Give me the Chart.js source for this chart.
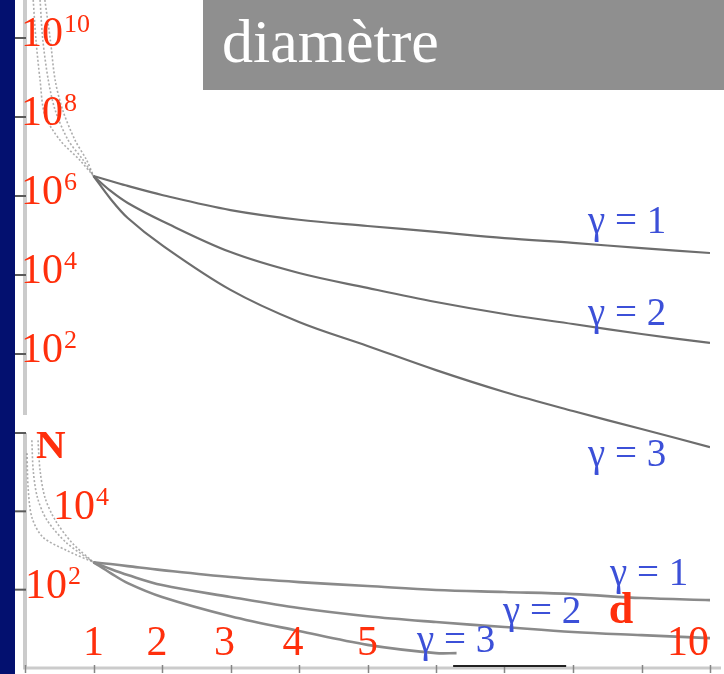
<!DOCTYPE html>
<html>
<head>
<meta charset="utf-8">
<title>diamètre</title>
<script src="https://cdn.jsdelivr.net/npm/chart.js@4.4.1/dist/chart.umd.min.js"></script>
<style>
  html, body { margin: 0; padding: 0; background: #fff; }
  #wrap { width: 724px; height: 674px; position: relative; overflow: hidden; }
  canvas { display: block; }
</style>
</head>
<body>
<div id="wrap"><canvas id="chart" width="724" height="674"></canvas></div>
<script>
// ---- data: number N of objects versus diameter d, for gamma = 1, 2, 3 ----
// upper panel (counts up to 10^10)
const dMain      = [1, 1.25, 1.5, 2, 3, 4, 5, 6, 7, 8, 9, 10];
const topGamma1  = [3.2e6, 2.4e6, 1.8e6, 1.06e6, 4.4e5, 2.5e5, 1.74e5, 1.23e5, 8.6e4, 6.5e4, 4.8e4, 3.6e4];
const topGamma2  = [3.2e6, 1.34e6, 6.65e5, 2.33e5, 3.8e4, 1.12e4, 4.7e3, 2.07e3, 1.03e3, 574, 321, 190];
const topGamma3  = [3.2e6, 8.4e5, 2.77e5, 5.7e4, 4.2e3, 646, 160, 39, 10.9, 3.6, 1.26, 0.44];
// dotted continuation below d = 1
const dTailTop1  = [0.12, 0.16, 0.22, 0.29, 0.51, 0.8, 1];
const dTailTop2  = [0.22, 0.26, 0.34, 0.44, 0.63, 0.85, 1];
const dTailTop3  = [0.29, 0.37, 0.44, 0.55, 0.73, 0.9, 1];
const tailTop1   = [9.2e10, 8.9e9, 8.6e8, 1.12e8, 2.6e7, 8.1e6, 3.2e6];
const tailTop2   = [9.2e10, 8.9e9, 8.6e8, 1.5e8, 2.6e7, 8.1e6, 3.2e6];
const tailTop3   = [9.2e10, 8.9e9, 8.6e8, 1.5e8, 2.6e7, 8.1e6, 3.2e6];

// lower panel (counts up to 10^4)
const botGamma1  = [500, 450, 400, 316, 210, 156, 124, 98, 87, 77, 61, 54];
const botGamma2  = [500, 336, 236, 131, 65, 34, 21, 14.9, 11.1, 8.3, 6.9, 5.8];
const dBotGamma3 = [1, 1.25, 1.5, 2, 3, 4, 5, 6, 6.3];
const botGamma3  = [500, 265, 147, 65, 21, 8.8, 3.9, 2.4, 2.4];
const dTailBot1  = [0.03, 0.045, 0.1, 0.26, 0.61, 1];
const dTailBot2  = [0.1, 0.12, 0.18, 0.32, 0.61, 1];
const dTailBot3  = [0.19, 0.22, 0.29, 0.44, 0.69, 1];
const tailBot1   = [3.05e5, 4.1e4, 7.1e3, 2.2e3, 1.0e3, 500];
const tailBot2   = [6.5e5, 1.1e5, 2.3e4, 6.0e3, 1.55e3, 500];
const tailBot3   = [6.5e5, 1.1e5, 2.3e4, 6.0e3, 1.55e3, 500];

// ---- tick labels ----
const topTickExps     = [10, 8, 6, 4, 2];   // powers of ten, upper panel
const bottomTickExps  = [4, 2];             // powers of ten, lower panel
const bottomTickMarks = [6, 4, 2];
const xTickValues     = [1, 2, 3, 4, 5, 10];
const gammaLabels     = ['γ = 1', 'γ = 2', 'γ = 3'];

// label nudges (pixels) relative to their tick
const xLabelShift = { 1: 0, 2: -5, 3: -6, 4: -6, 5: 0 };
const botLabelX   = { 4: 53, 2: 25 };

const SERIF = '"Liberation Serif", "Times New Roman", serif';
const RED   = '#ff2f0c';
const BLUE  = '#3c50d8';

function pts(xs, ys) { return xs.map((x, i) => ({ x: x, y: ys[i] })); }

function mainLine(data, axis, color, width) {
  return {
    data: data, yAxisID: axis, borderColor: color, borderWidth: width,
    pointRadius: 0, fill: false, tension: 0.35
  };
}
function tailLine(data, axis) {
  return {
    data: data, yAxisID: axis, borderColor: 'rgba(105,105,105,0.55)', borderWidth: 1.6,
    borderDash: [2, 2], pointRadius: 0, fill: false, tension: 0.3
  };
}

// superscript power label "10^exp"
function drawPow(ctx, exp, x, baseline, size) {
  ctx.font = size + 'px ' + SERIF;
  ctx.fillText('10', x, baseline);
  const w = ctx.measureText('10').width;
  ctx.font = Math.round(size * 0.62) + 'px ' + SERIF;
  ctx.fillText(String(exp), x + w + 1, baseline - size * 0.33);
}

const decor = {
  id: 'decor',
  beforeDraw(chart) {
    const ctx = chart.ctx;
    const xs = chart.scales.x, yTop = chart.scales.yTop, yBot = chart.scales.yBot;
    ctx.save();
    ctx.fillStyle = '#ffffff';
    ctx.fillRect(0, 0, chart.width, chart.height);
    // dark band on the left edge
    ctx.fillStyle = '#03106f';
    ctx.fillRect(0, 0, 15, chart.height);

    // vertical axis bars of the two panels
    const yZeroTop = yTop.getPixelForValue(1);
    const yZeroBot = yBot.getPixelForValue(1);
    const yTopBot = yBot.getPixelForValue(1e6);
    ctx.fillStyle = '#cbcbcb';
    ctx.fillRect(23, 0, 4, yZeroTop - 18);
    ctx.fillRect(23, yTopBot, 4, yZeroBot - yTopBot + 1);

    // horizontal axis
    ctx.fillRect(23, yZeroBot - 1.5, chart.width - 26, 3);
    ctx.strokeStyle = '#858585';
    ctx.lineWidth = 1.5;
    for (let d = 0; d <= 10; d++) {
      const px = Math.round(xs.getPixelForValue(d)) + 0.5;
      ctx.beginPath(); ctx.moveTo(px, yZeroBot - 3); ctx.lineTo(px, yZeroBot + 5); ctx.stroke();
    }

    // decade tick marks on the left
    ctx.strokeStyle = '#5a5a5a';
    ctx.lineWidth = 2;
    const marks = topTickExps.map(e => yTop.getPixelForValue(Math.pow(10, e)))
      .concat(bottomTickMarks.map(e => yBot.getPixelForValue(Math.pow(10, e))));
    marks.forEach(py => {
      ctx.beginPath(); ctx.moveTo(15, py); ctx.lineTo(26, py); ctx.stroke();
    });
    ctx.restore();
  },
  afterDatasetsDraw(chart) {
    const ctx = chart.ctx;
    const xs = chart.scales.x, yTop = chart.scales.yTop, yBot = chart.scales.yBot;
    const yZeroBot = yBot.getPixelForValue(1);
    ctx.save();
    ctx.textBaseline = 'alphabetic';

    // short dark stroke lying on the axis
    ctx.fillStyle = '#222';
    ctx.fillRect(xs.getPixelForValue(6.25), yZeroBot - 3, xs.getPixelForValue(7.9) - xs.getPixelForValue(6.25), 2);

    // power-of-ten labels
    ctx.fillStyle = RED;
    ctx.textAlign = 'left';
    topTickExps.forEach(e => drawPow(ctx, e, 21, yTop.getPixelForValue(Math.pow(10, e)) + 8, 42));
    bottomTickExps.forEach(e => drawPow(ctx, e, botLabelX[e], yBot.getPixelForValue(Math.pow(10, e)) + 8, 42));

    // d-axis labels, drawn just above the axis
    ctx.font = '42px ' + SERIF;
    xTickValues.forEach(v => {
      const px = xs.getPixelForValue(v);
      if (v === 10) { ctx.textAlign = 'right'; ctx.fillText(String(v), px - 1, yZeroBot - 13); }
      else { ctx.textAlign = 'center'; ctx.fillText(String(v), px + xLabelShift[v], yZeroBot - 13); }
    });

    // axis names
    ctx.font = 'bold 41px ' + SERIF;
    ctx.textAlign = 'left';
    ctx.fillText('N', 36, 458);
    ctx.font = 'bold 44px ' + SERIF;
    ctx.textAlign = 'center';
    ctx.fillText('d', 621, 623);

    // curve names
    ctx.fillStyle = BLUE;
    ctx.textAlign = 'left';
    ctx.font = '39px ' + SERIF;
    ctx.fillText(gammaLabels[0], 588, 233);
    ctx.fillText(gammaLabels[1], 588, 325);
    ctx.fillText(gammaLabels[2], 588, 466);
    ctx.fillText(gammaLabels[0], 610, 585);
    ctx.fillText(gammaLabels[1], 503, 623);
    ctx.fillText(gammaLabels[2], 417, 652);

    // title box
    ctx.fillStyle = '#8f8f8f';
    ctx.fillRect(203, 0, chart.width - 203, 90);
    ctx.fillStyle = '#ffffff';
    ctx.font = '62px ' + SERIF;
    ctx.textAlign = 'left';
    ctx.fillText('diamètre', 222, 62);
    ctx.restore();
  }
};

const TOP_LINE = '#6d6d6d';
const BOT_LINE = '#8a8a8a';

new Chart(document.getElementById('chart'), {
  type: 'line',
  data: {
    datasets: [
      tailLine(pts(dTailTop1, tailTop1), 'yTop'),
      tailLine(pts(dTailTop2, tailTop2), 'yTop'),
      tailLine(pts(dTailTop3, tailTop3), 'yTop'),
      mainLine(pts(dMain, topGamma1), 'yTop', TOP_LINE, 2.2),
      mainLine(pts(dMain, topGamma2), 'yTop', TOP_LINE, 2.2),
      mainLine(pts(dMain, topGamma3), 'yTop', TOP_LINE, 2.2),
      tailLine(pts(dTailBot1, tailBot1), 'yBot'),
      tailLine(pts(dTailBot2, tailBot2), 'yBot'),
      tailLine(pts(dTailBot3, tailBot3), 'yBot'),
      mainLine(pts(dMain, botGamma1), 'yBot', BOT_LINE, 2.6),
      mainLine(pts(dMain, botGamma2), 'yBot', BOT_LINE, 2.6),
      mainLine(pts(dBotGamma3, botGamma3), 'yBot', BOT_LINE, 2.6)
    ]
  },
  options: {
    responsive: false,
    animation: false,
    devicePixelRatio: 1,
    layout: { padding: { left: 25, right: 14, top: 0, bottom: 6 } },
    plugins: { legend: { display: false }, tooltip: { enabled: false } },
    scales: {
      x: { type: 'linear', min: 0, max: 10, display: false },
      yTop: { type: 'logarithmic', position: 'left', display: false,
              min: Math.pow(10, -5.95), max: Math.pow(10, 10.962) },
      yBot: { type: 'logarithmic', position: 'left', display: false,
              min: 1, max: Math.pow(10, 17.055) }
    }
  },
  plugins: [decor]
});
</script>
</body>
</html>
